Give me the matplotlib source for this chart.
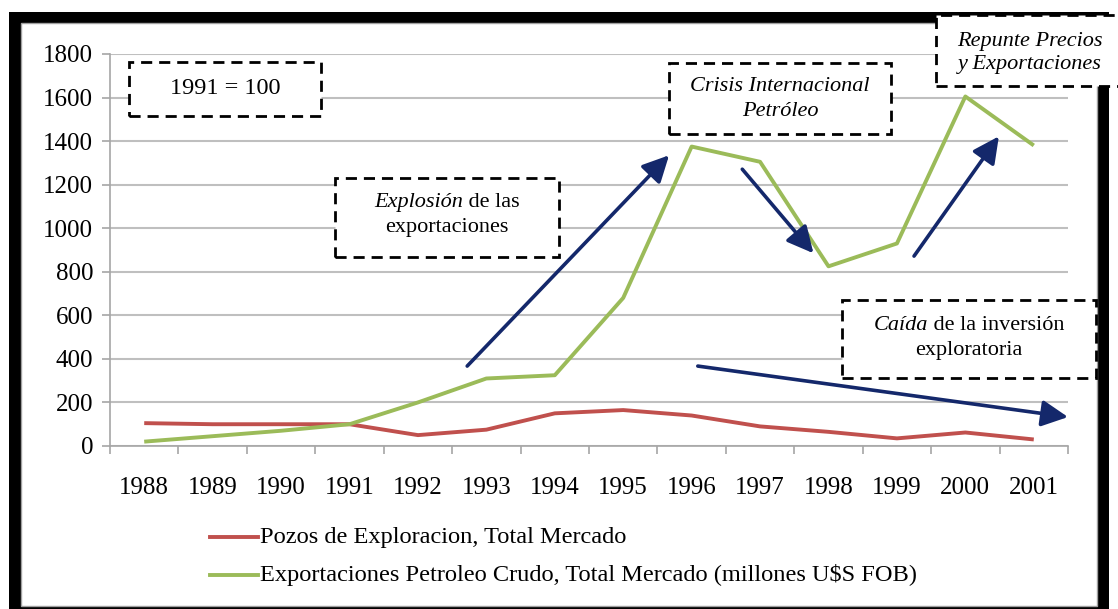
import matplotlib
matplotlib.use("Agg")
import matplotlib.pyplot as plt
from matplotlib.patches import Rectangle, FancyArrowPatch
from matplotlib.lines import Line2D
from matplotlib.offsetbox import TextArea, HPacker, VPacker, AnnotationBbox
import numpy as np

years = ["1988", "1989", "1990", "1991", "1992", "1993", "1994",
         "1995", "1996", "1997", "1998", "1999", "2000", "2001"]
pozos = [105, 100, 100, 100, 50, 75, 150, 165, 140, 90, 65, 35, 62, 30]
exportaciones = [20, 45, 70, 100, 200, 310, 325, 680, 1375, 1305, 825, 930, 1605, 1380]
yticks = [0, 200, 400, 600, 800, 1000, 1200, 1400, 1600, 1800]
label_pozos = "Pozos de Exploracion, Total Mercado"
label_export = "Exportaciones Petroleo Crudo, Total Mercado (millones U$S FOB)"

W, H = 1118, 609
fig = plt.figure(figsize=(W / 100, H / 100), dpi=100)
plt.rcParams['font.family'] = ['Liberation Serif', 'DejaVu Serif']

def fx(px):
    return px / W

def fy(py):
    return 1 - py / H

# Frame
fig.patches.append(Rectangle((fx(9), fy(609)), fx(1109) - fx(9), fy(12) - fy(609),
                             transform=fig.transFigure, facecolor='black', edgecolor='none', zorder=0))
fig.patches.append(Rectangle((fx(21), fy(606)), fx(1097) - fx(21), fy(23) - fy(606),
                             transform=fig.transFigure, facecolor='white', edgecolor='#A0A0A0',
                             linewidth=1.0, zorder=0.5))

ax = fig.add_axes([fx(110), fy(446), fx(1068) - fx(110), fy(54) - fy(446)])
ax.set_zorder(1)
ax.set_facecolor('none')
x = np.arange(len(years))
ax.set_xlim(-0.5, len(years) - 0.5)
ax.set_ylim(0, 1800)
ax.set_yticks(yticks)
ax.yaxis.grid(True, color='#BFBFBF', linewidth=1.5)
ax.set_axisbelow(True)
for s in ['top', 'right']:
    ax.spines[s].set_visible(False)
for s in ['left', 'bottom']:
    ax.spines[s].set_color('#A6A6A6')
    ax.spines[s].set_linewidth(1.2)
ax.set_xticks(x)
ax.set_xticklabels(years)
ax.set_xticks(np.arange(-0.5, len(years)), minor=True)
ax.tick_params(axis='x', which='major', length=0, pad=22, labelsize=18)
ax.tick_params(axis='x', which='minor', length=6, color='#A6A6A6', width=1.2)
ax.tick_params(axis='y', length=6, color='#A6A6A6', width=1.2, labelsize=18, pad=6)

ax.plot(x, pozos, color='#C0504D', linewidth=2.8, solid_capstyle='butt', zorder=3)
ax.plot(x, exportaciones, color='#9BBB59', linewidth=2.8, solid_capstyle='butt', zorder=3)

# Arrows (data coords)
arrows = [((4.72, 367), (7.67, 1335)),
          ((8.74, 1271), (9.78, 885)),
          ((11.25, 872), (12.49, 1422)),
          ((8.09, 367), (13.5, 133))]
for (x0, y0), (x1, y1) in arrows:
    ar = FancyArrowPatch((x0, y0), (x1, y1), arrowstyle='-|>,head_length=10,head_width=5',
                         mutation_scale=1.6, color='#14286B', linewidth=2.6,
                         shrinkA=0, shrinkB=0, zorder=4, clip_on=False)
    ax.add_patch(ar)

# Dashed text boxes in figure pixel coordinates
def box(x0, y0, x1, y1):
    fig.patches.append(Rectangle((fx(x0), fy(y1)), fx(x1) - fx(x0), fy(y0) - fy(y1),
                                 transform=fig.transFigure, facecolor='white', edgecolor='black',
                                 linewidth=2.0, linestyle=(0, (4, 2.5)), zorder=5))

def mixed(parts, fs=16):
    areas = [TextArea(t, textprops=dict(fontsize=fs, fontstyle=st, family=['Liberation Serif']))
             for t, st in parts]
    return HPacker(children=areas, align='baseline', pad=0, sep=0)

box(129, 62, 321, 116)
fig.text(fx(225), fy(88), "1991 = 100", ha='center', va='center', fontsize=17.5, zorder=6)

box(335, 178, 559, 257)
vp = VPacker(children=[mixed([("Explosión", 'italic'), (" de las", 'normal')]),
                       mixed([("exportaciones", 'normal')])], align='center', pad=0, sep=5)
ab = AnnotationBbox(vp, (fx(447), fy(215)), xycoords='figure fraction', frameon=False,
                    box_alignment=(0.5, 0.5), zorder=6)
fig.add_artist(ab)

box(669, 63, 891, 134)
fig.text(fx(780), fy(99), "Crisis Internacional\nPetróleo", ha='center', va='center',
         fontsize=16, fontstyle='italic', zorder=6, linespacing=1.45)

box(936, 15, 1125, 86)
fig.text(fx(1030), fy(53), "Repunte Precios\ny Exportaciones", ha='center', va='center',
         fontsize=16, fontstyle='italic', zorder=6, linespacing=1.3)

box(842, 300, 1096, 378)
vp2 = VPacker(children=[mixed([("Caída", 'italic'), (" de la inversión", 'normal')]),
                        mixed([("exploratoria", 'normal')])], align='center', pad=0, sep=5)
ab2 = AnnotationBbox(vp2, (fx(969), fy(338)), xycoords='figure fraction', frameon=False,
                     box_alignment=(0.5, 0.5), zorder=6)
fig.add_artist(ab2)

# Legend
fig.add_artist(Line2D([fx(210), fx(258)], [fy(537), fy(537)], color='#C0504D', linewidth=2.8))
fig.add_artist(Line2D([fx(210), fx(258)], [fy(575), fy(575)], color='#9BBB59', linewidth=2.8))
fig.text(fx(260), fy(537), label_pozos, ha='left', va='center', fontsize=17.6)
fig.text(fx(260), fy(575), label_export, ha='left', va='center', fontsize=17.6)

fig.savefig("out.png", dpi=100)
